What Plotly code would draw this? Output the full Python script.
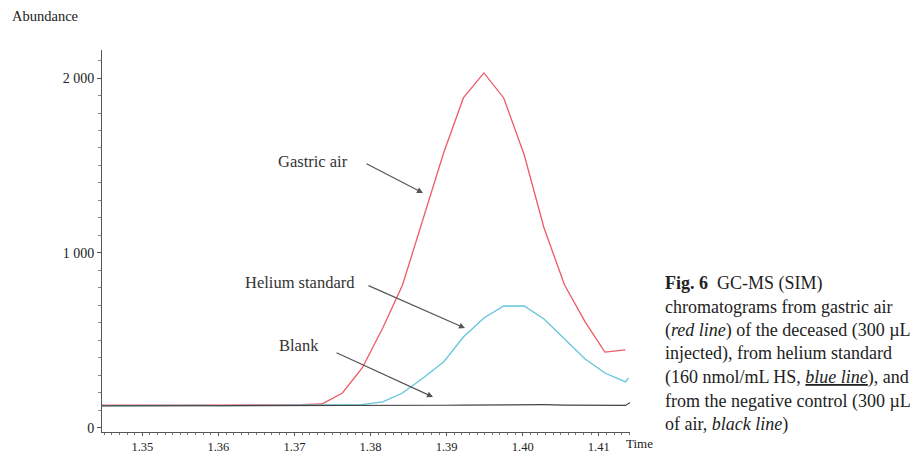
import plotly.graph_objects as go

# ---- data ----
time_min = [1.3444, 1.3470, 1.3497, 1.3523, 1.3550, 1.3577, 1.3603, 1.3630, 1.3656,
            1.3683, 1.3709, 1.3736, 1.3763, 1.3789, 1.3816, 1.3842, 1.3869, 1.3896,
            1.3922, 1.3949, 1.3975, 1.4002, 1.4028, 1.4055, 1.4082, 1.4108, 1.4135]

gastric_air = [130, 131, 130, 129, 130, 131, 130, 130, 131, 132, 133, 137, 200, 343,
               571, 817, 1200, 1571, 1886, 2029, 1886, 1560, 1143, 817, 606, 434, 446]

helium_time = time_min + [1.4139]
helium_standard = [128, 129, 128, 128, 129, 129, 128, 129, 129, 130, 130, 130, 131, 133,
                   149, 200, 286, 377, 520, 629, 697, 697, 623, 509, 394, 314, 263, 286]

blank_time = time_min + [1.4143]
blank = [126, 126, 127, 126, 126, 127, 126, 126, 127, 126, 126, 127, 127, 127,
         128, 128, 129, 130, 131, 132, 134, 134, 133, 131, 130, 129, 129, 150]

y_tickvals = [0, 1000, 2000]
y_ticktext = ["0", "1 000", "2 000"]
x_tickvals = [1.35, 1.36, 1.37, 1.38, 1.39, 1.40, 1.41]
x_ticktext = ["1.35", "1.36", "1.37", "1.38", "1.39", "1.40", "1.41"]

caption_lines = [
    "<b>Fig. 6</b>  GC-MS (SIM)",
    "chromatograms from gastric air",
    "(<i>red line</i>) of the deceased (300 µL",
    "injected), from helium standard",
    "(160 nmol/mL HS, <u><i>blue line</i></u>), and",
    "from the negative control (300 µL",
    "of air, <i>black line</i>)",
]

SERIF = "Liberation Serif, Times New Roman, serif"

# plot-area geometry (pixels) used to place free text
L, R, T, B = 102, 630, 50, 432
W, H = 914, 454
PW, PH = R - L, B - T


def px(xp):
    return (xp - L) / PW


def py(yp):
    return (B - yp) / PH


fig = go.Figure()
fig.add_trace(go.Scatter(x=time_min, y=gastric_air, mode="lines",
                         line=dict(color="#ee5a64", width=1.3), name="Gastric air"))
fig.add_trace(go.Scatter(x=helium_time, y=helium_standard, mode="lines",
                         line=dict(color="#62c5dc", width=1.3), name="Helium standard"))
fig.add_trace(go.Scatter(x=blank_time, y=blank, mode="lines",
                         line=dict(color="#444444", width=1.2), name="Blank"))

fig.update_layout(
    width=W, height=H,
    margin=dict(l=L, r=W - R, t=T, b=H - B, autoexpand=False),
    paper_bgcolor="white", plot_bgcolor="white",
    showlegend=False,
    font=dict(family=SERIF, color="#222"),
)
fig.update_xaxes(
    range=[1.3447, 1.4141], showgrid=False, zeroline=False, automargin=False,
    showline=True, linecolor="#555", linewidth=1,
    ticks="outside", ticklen=3, tickcolor="#555",
    tickvals=x_tickvals, ticktext=x_ticktext,
    tickfont=dict(family=SERIF, size=12.5, color="#222"),
    minor=dict(dtick=0.001, ticks="outside", ticklen=2, tickcolor="#777", showgrid=False),
)
fig.update_yaxes(
    range=[-23, 2160], showgrid=False, zeroline=False, automargin=False,
    showline=True, linecolor="#555", linewidth=1,
    ticks="outside", ticklen=4, tickcolor="#555",
    tickvals=y_tickvals, ticktext=y_ticktext,
    tickfont=dict(family=SERIF, size=14, color="#222"),
    minor=dict(dtick=100, ticks="outside", ticklen=3, tickcolor="#888", showgrid=False),
)

# axis titles as free text
fig.add_annotation(x=px(10), y=py(16), xref="paper", yref="paper", text="Abundance",
                   showarrow=False, xanchor="left", yanchor="middle",
                   font=dict(family=SERIF, size=14.5, color="#222"))
fig.add_annotation(x=px(624), y=py(444), xref="paper", yref="paper",
                   text="Time", showarrow=False, xanchor="left", yanchor="middle",
                   font=dict(family=SERIF, size=13, color="#222"))

# labels with arrows (data coordinates)
labels = [
    ("Gastric air", 1.37243, 1520, 1.37927, 1514, 1.38689, 1343),
    ("Helium standard", 1.37073, 829, 1.37953, 817, 1.39241, 571),
    ("Blank", 1.37059, 474, 1.37533, 434, 1.38821, 177),
]
for text, tx, ty, ax0, ay0, hx, hy in labels:
    fig.add_annotation(x=tx, y=ty, text=text, showarrow=False,
                       font=dict(family=SERIF, size=16.5, color="#333"))
    fig.add_annotation(x=hx, y=hy, ax=ax0, ay=ay0, axref="x", ayref="y", text="",
                       showarrow=True, arrowhead=2, arrowsize=1, arrowwidth=1.2,
                       arrowcolor="#555")

# caption on the right
for i, line in enumerate(caption_lines):
    ypix = 283 + i * 23.6
    fig.add_annotation(x=px(663), y=py(ypix), xref="paper", yref="paper",
                       text=line, showarrow=False, xanchor="left", yanchor="middle",
                       font=dict(family=SERIF, size=18, color="#222"))

fig.write_html("out.html")
